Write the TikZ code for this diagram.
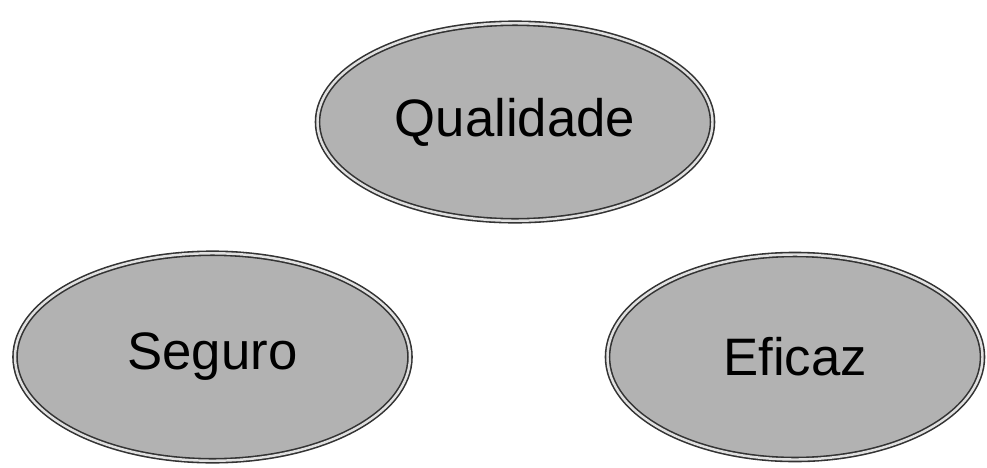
\documentclass[tikz,border=0pt]{standalone}
\usepackage{fontspec}
\setmainfont{Liberation Sans}
\usepackage{xcolor}
\usetikzlibrary{shapes,positioning,calc}

\tikzset{
    bubble/.style={ellipse, draw=black!80, line width=0.9pt,
        double=black!12, double distance=1.4pt,
        fill=black!30, inner sep=0pt,
        font=\fontsize{30}{36}\selectfont}
}

\begin{document}
\begin{tikzpicture}[auto, node distance=1.5cm]
        % Frame
        \useasboundingbox (0,0) rectangle (19.74,9.34);

        % Top
        \node[bubble, minimum width=7.9cm, minimum height=3.95cm] (qual) at (10.3,6.9) {Qualidade};

        % Bottom row
        \node[bubble, minimum width=7.9cm, minimum height=4.15cm] (seg) at (4.25,2.2) {Seguro};
        \node[bubble, minimum width=7.5cm, minimum height=4.1cm] (efi) at (15.9,2.2) {Eficaz};
    \end{tikzpicture}
\end{document}
